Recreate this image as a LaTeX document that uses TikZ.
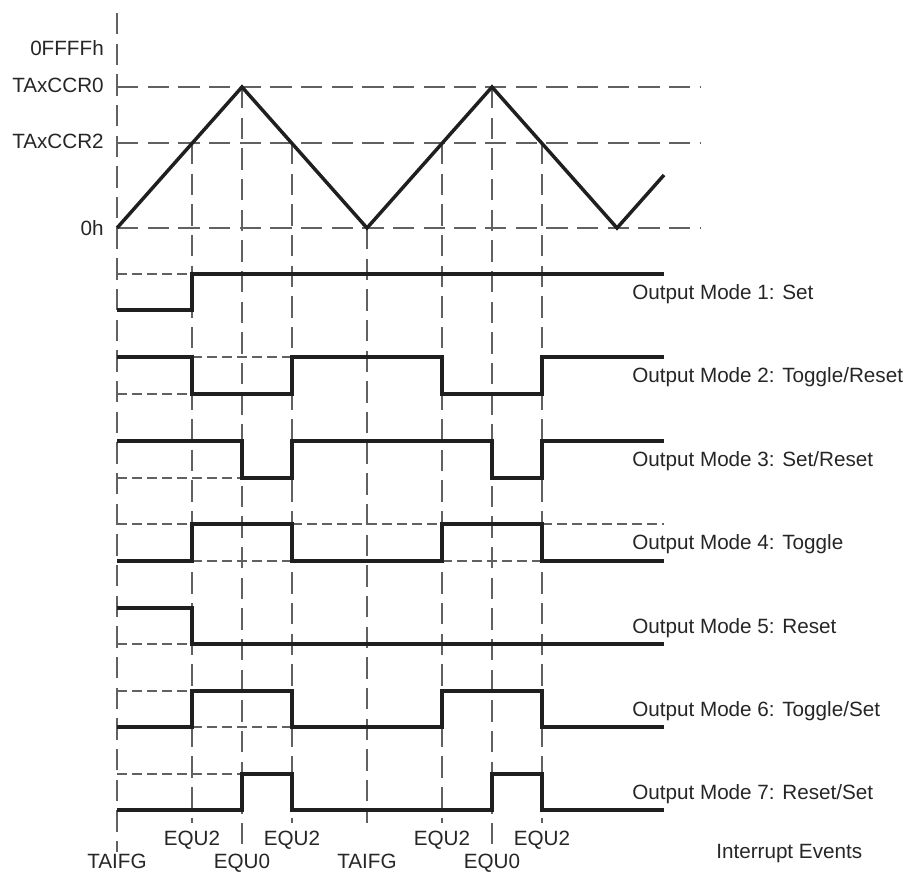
\documentclass[tikz,border=0pt]{standalone}
\usepackage{fontspec}
\setmainfont{Liberation Sans}
\begin{document}
\begin{tikzpicture}[x=0.75pt,y=-0.75pt,
  sig/.style={line width=2.6pt, line join=miter, line cap=butt, black!88},
  gridln/.style={line width=1.1pt, black!62, dash pattern=on 16pt off 7pt},
  refln/.style={line width=1pt, black!62, dash pattern=on 7.5pt off 3.75pt},
  lbl/.style={font=\fontsize{15.5}{18}\selectfont, inner sep=0pt, text=black!85}]
\useasboundingbox (0,0) rectangle (909,871);

% vertical event lines
\draw[gridln] (117,13) -- (117,852);
\draw[gridln] (192,143) -- (192,823);
\draw[gridln] (242,87) -- (242,850);
\draw[gridln] (292,143) -- (292,823);
\draw[gridln] (367,228) -- (367,823);
\draw[gridln] (442,143) -- (442,823);
\draw[gridln] (492,87) -- (492,850);
\draw[gridln] (542,143) -- (542,823);

% horizontal level lines
\draw[gridln] (117,87) -- (700,87);
\draw[gridln] (117,143) -- (700,143);
\draw[gridln] (117,228) -- (700,228);

% counter
\draw[sig] (117,228) -- (242,87) -- (367,228) -- (492,87) -- (617,228) -- (664,175);

% axis labels
\node[lbl, anchor=base east] (ffff) at (104,55) {0FFFFh};
\node[lbl, anchor=base east] (ccr0) at (104,92) {TAxCCR0};
\node[lbl, anchor=base east] (ccr2) at (104,148) {TAxCCR2};
\node[lbl, anchor=base east] (zero) at (104,235) {0h};

% Mode 1
\draw[refln] (117,274) -- (192,274);
\draw[sig] (117,310) -- (192,310) -- (192,274) -- (664,274);
% Mode 2
\draw[refln] (117,394) -- (192,394);
\draw[refln] (192,357) -- (292,357);
\draw[sig] (117,357) -- (192,357) -- (192,394) -- (292,394) -- (292,357) -- (442,357) -- (442,394) -- (542,394) -- (542,357) -- (664,357);
% Mode 3
\draw[refln] (117,478) -- (242,478);
\draw[sig] (117,441) -- (242,441) -- (242,478) -- (292,478) -- (292,441) -- (492,441) -- (492,478) -- (542,478) -- (542,441) -- (664,441);
% Mode 4
\draw[refln] (117,524) -- (192,524);
\draw[refln] (292,524) -- (442,524);
\draw[refln] (542,524) -- (664,524);
\draw[refln] (192,561) -- (292,561);
\draw[refln] (442,561) -- (542,561);
\draw[sig] (117,561) -- (192,561) -- (192,524) -- (292,524) -- (292,561) -- (442,561) -- (442,524) -- (542,524) -- (542,561) -- (664,561);
% Mode 5
\draw[refln] (117,644) -- (192,644);
\draw[sig] (117,608) -- (192,608) -- (192,644) -- (664,644);
% Mode 6
\draw[refln] (117,691) -- (192,691);
\draw[refln] (192,727) -- (292,727);
\draw[sig] (117,727) -- (192,727) -- (192,691) -- (292,691) -- (292,727) -- (442,727) -- (442,691) -- (542,691) -- (542,727) -- (664,727);
% Mode 7
\draw[refln] (117,774) -- (242,774);
\draw[sig] (117,810) -- (242,810) -- (242,774) -- (292,774) -- (292,810) -- (492,810) -- (492,774) -- (542,774) -- (542,810) -- (664,810);

% mode labels
\node[lbl, anchor=base west] (m1) at (632,299) {Output Mode 1: Set};
\node[lbl, anchor=base west] (m2) at (632,382) {Output Mode 2: Toggle/Reset};
\node[lbl, anchor=base west] (m3) at (632,466) {Output Mode 3: Set/Reset};
\node[lbl, anchor=base west] (m4) at (632,549) {Output Mode 4: Toggle};
\node[lbl, anchor=base west] (m5) at (632,633) {Output Mode 5: Reset};
\node[lbl, anchor=base west] (m6) at (632,716) {Output Mode 6: Toggle/Set};
\node[lbl, anchor=base west] (m7) at (632,799) {Output Mode 7: Reset/Set};

% event labels
\node[lbl, anchor=base] (e1) at (192,845) {EQU2};
\node[lbl, anchor=base] (e2) at (292,845) {EQU2};
\node[lbl, anchor=base] (e3) at (442,845) {EQU2};
\node[lbl, anchor=base] (e4) at (542,845) {EQU2};
\node[lbl, anchor=base] (t1) at (117,868) {TAIFG};
\node[lbl, anchor=base] (q1) at (242,868) {EQU0};
\node[lbl, anchor=base] (t2) at (367,868) {TAIFG};
\node[lbl, anchor=base] (q2) at (492,868) {EQU0};
\node[lbl, anchor=base west] (ie) at (716,858) {Interrupt Events};
\end{tikzpicture}
\end{document}
